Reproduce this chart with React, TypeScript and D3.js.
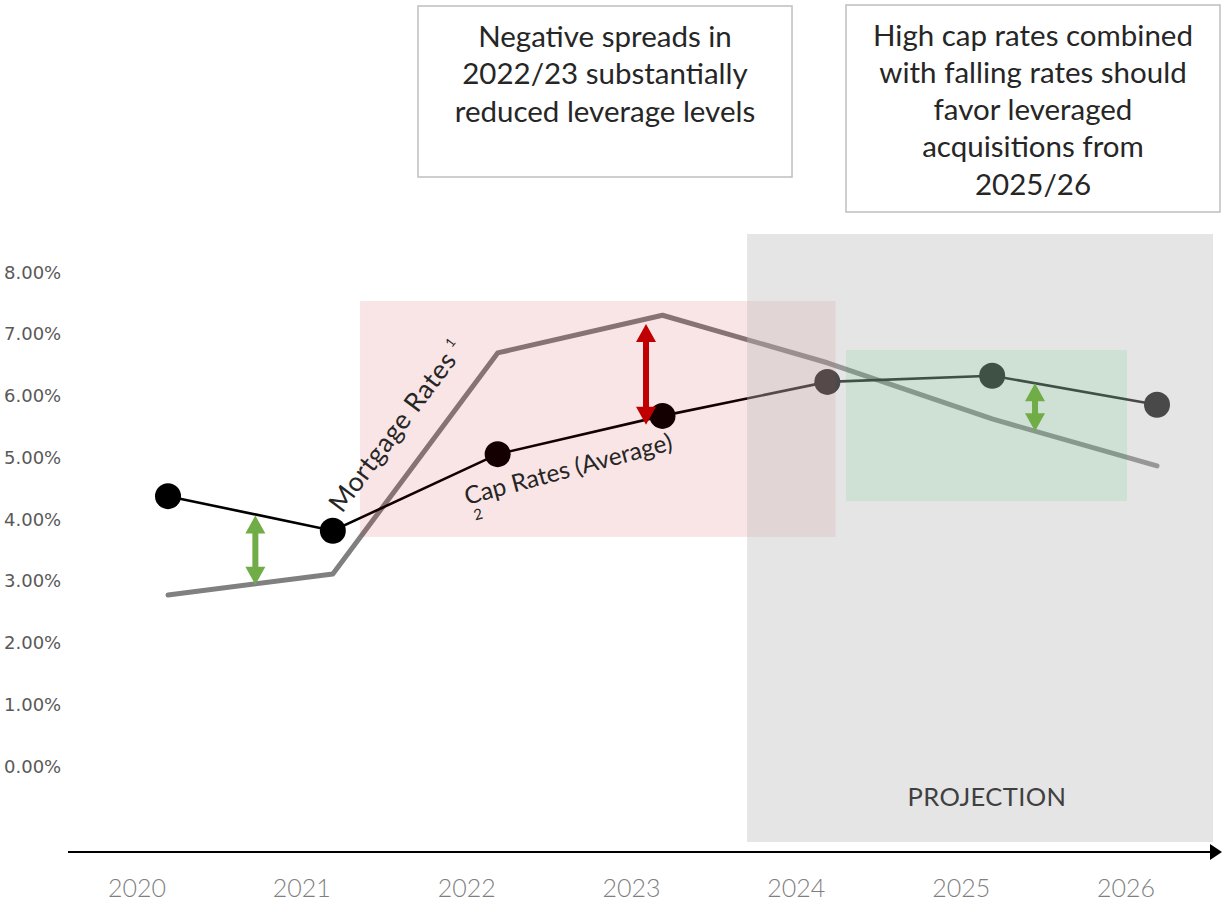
import React from "react";
import * as d3 from "d3";

// ---- data ----
const years = [2020, 2021, 2022, 2023, 2024, 2025, 2026];
const capRates = [4.37, 3.81, 5.05, 5.67, 6.22, 6.32, 5.85];
const mortgageRates = [2.77, 3.11, 6.69, 7.3, 6.53, 5.62, 4.86];
const yTicks = [0, 1, 2, 3, 4, 5, 6, 7, 8];
const box1Lines = ["Negative spreads in", "2022/23 substantially", "reduced leverage levels"];
const box2Lines = [
  "High cap rates combined",
  "with falling rates should",
  "favor leveraged",
  "acquisitions from",
  "2025/26",
];
const spreadArrowYears = [2020.53, 2022.9, 2025.26];
const spreadArrowColors = ["#70ad47", "#c00000", "#70ad47"];
const spreadArrowShift = [1, 5, 0];
// annotation regions [x0, x1, y0, y1] in data units
const negativeRegion = [2021.165, 2024.05, 3.71, 7.53];
const projectionRegion = [2023.513, 2026.34, -1.23, 8.615];
const positiveRegion = [2024.113, 2025.818, 4.29, 6.74];

const W = 1222;
const H = 904;

const x = d3.scaleLinear().domain([2020, 2026]).range([168, 1157]);
const y = d3.scaleLinear().domain([0, 8]).range([766, 272]);

function valueAt(series: number[], t: number) {
  const i = Math.min(Math.floor(t - years[0]), series.length - 2);
  const f = t - years[0] - i;
  return d3.interpolateNumber(series[i], series[i + 1])(f);
}

function arrowPath(cx: number, top: number, bottom: number) {
  const hw = 10, hl = 18, s = 3;
  return [
    [cx, top],
    [cx + hw, top + hl],
    [cx + s, top + hl],
    [cx + s, bottom - hl],
    [cx + hw, bottom - hl],
    [cx, bottom],
    [cx - hw, bottom - hl],
    [cx - s, bottom - hl],
    [cx - s, top + hl],
    [cx - hw, top + hl],
  ]
    .map((p, i) => (i === 0 ? "M" : "L") + p[0] + "," + p[1])
    .join("") + "Z";
}

function rectOf(r: number[]) {
  const x0 = x(r[0]), x1 = x(r[1]), y0 = y(r[3]), y1 = y(r[2]);
  return { x: x0, y: y0, w: x1 - x0, h: y1 - y0 };
}

export default function App() {
  const line = d3
    .line<number>()
    .x((_, i) => x(years[i]))
    .y((d) => y(d));

  const pink = rectOf(negativeRegion);
  const gray = rectOf(projectionRegion);
  const green = rectOf(positiveRegion);
  const grayHolePath =
    `M${gray.x},${gray.y}h${gray.w}v${gray.h}h${-gray.w}Z` +
    `M${green.x},${green.y}h${green.w}v${green.h}h${-green.w}Z`;

  const labelFont = "Lato, 'Open Sans', sans-serif";

  return (
    <svg
      width={W}
      height={H}
      viewBox={`0 0 ${W} ${H}`}
      style={{ position: "absolute", left: 0, top: 0, display: "block", background: "#fff" }}
    >
      {/* annotation boxes */}
      <rect x={418} y={6} width={374} height={171} fill="#fff" stroke="#bfbfbf" strokeWidth={1.5} />
      {box1Lines.map((t, i) => (
        <text key={t} x={605} y={35 + i * 37.5} textAnchor="middle" dominantBaseline="central"
          fontFamily={labelFont} fontSize={29.5} fill="#262626">{t}</text>
      ))}
      <rect x={846} y={5} width={374} height={207} fill="#fff" stroke="#bfbfbf" strokeWidth={1.5} />
      {box2Lines.map((t, i) => (
        <text key={t} x={1033} y={34 + i * 37.3} textAnchor="middle" dominantBaseline="central"
          fontFamily={labelFont} fontSize={29.5} fill="#262626">{t}</text>
      ))}

      {/* y tick labels */}
      {yTicks.map((v) => (
        <text key={v} x={4} y={y(v)} dominantBaseline="central" fontFamily="'DejaVu Sans', sans-serif"
          fontSize={18} fill="#595959">{v.toFixed(2) + "%"}</text>
      ))}

      {/* series */}
      <path d={line(mortgageRates) || ""} fill="none" stroke="#808080" strokeWidth={5} strokeLinecap="round" strokeLinejoin="round" />
      <path d={line(capRates) || ""} fill="none" stroke="#000" strokeWidth={2.6} />
      {capRates.map((v, i) => (
        <circle key={i} cx={x(years[i])} cy={y(v)} r={13} fill="#000" />
      ))}

      {/* overlays */}
      <rect x={pink.x} y={pink.y} width={pink.w} height={pink.h} fill="#c00000" fillOpacity={0.1} />
      <path d={grayHolePath} fill="#bdbdbd" fillOpacity={0.39} fillRule="evenodd" />
      <rect x={green.x} y={green.y} width={green.w} height={green.h} fill="#91b89f" fillOpacity={0.435} />

      {/* series labels */}
      <g transform="translate(342,514) rotate(-53)">
        <text x={0} y={0} fontFamily={labelFont} fontSize={26.5} letterSpacing={0.6} fill="#262626">
          Mortgage Rates
          <tspan dx={6} dy={-12} fontSize={13}>1</tspan>
        </text>
      </g>
      <g transform="translate(467,505) rotate(-15)">
        <text x={0} y={0} fontFamily={labelFont} fontSize={24.5} fill="#262626">Cap Rates (Average)</text>
        <text x={4} y={17} fontFamily={labelFont} fontSize={15} fill="#262626">2</text>
      </g>

      {/* spread arrows */}
      {spreadArrowYears.map((t, i) => {
        const a = y(valueAt(capRates, t));
        const b = y(valueAt(mortgageRates, t));
        const top = Math.min(a, b) + spreadArrowShift[i];
        const bottom = Math.max(a, b) + spreadArrowShift[i];
        return <path key={i} d={arrowPath(x(t), top, bottom)} fill={spreadArrowColors[i]} />;
      })}

      <text x={987} y={796} textAnchor="middle" dominantBaseline="central" fontFamily={labelFont}
        fontSize={25.5} letterSpacing={0.4} fill="#404040">PROJECTION</text>

      {/* x axis */}
      <line x1={68} x2={1212} y1={852} y2={852} stroke="#000" strokeWidth={2} />
      <path d="M1210,844L1222,852L1210,860Z" fill="#000" />
      {years.map((yr) => (
        <text key={yr} x={x(yr) - 31} y={887} textAnchor="middle" dominantBaseline="central"
          fontFamily={labelFont} fontWeight={300} fontSize={25} fill="#7f7f7f">{yr}</text>
      ))}
    </svg>
  );
}
